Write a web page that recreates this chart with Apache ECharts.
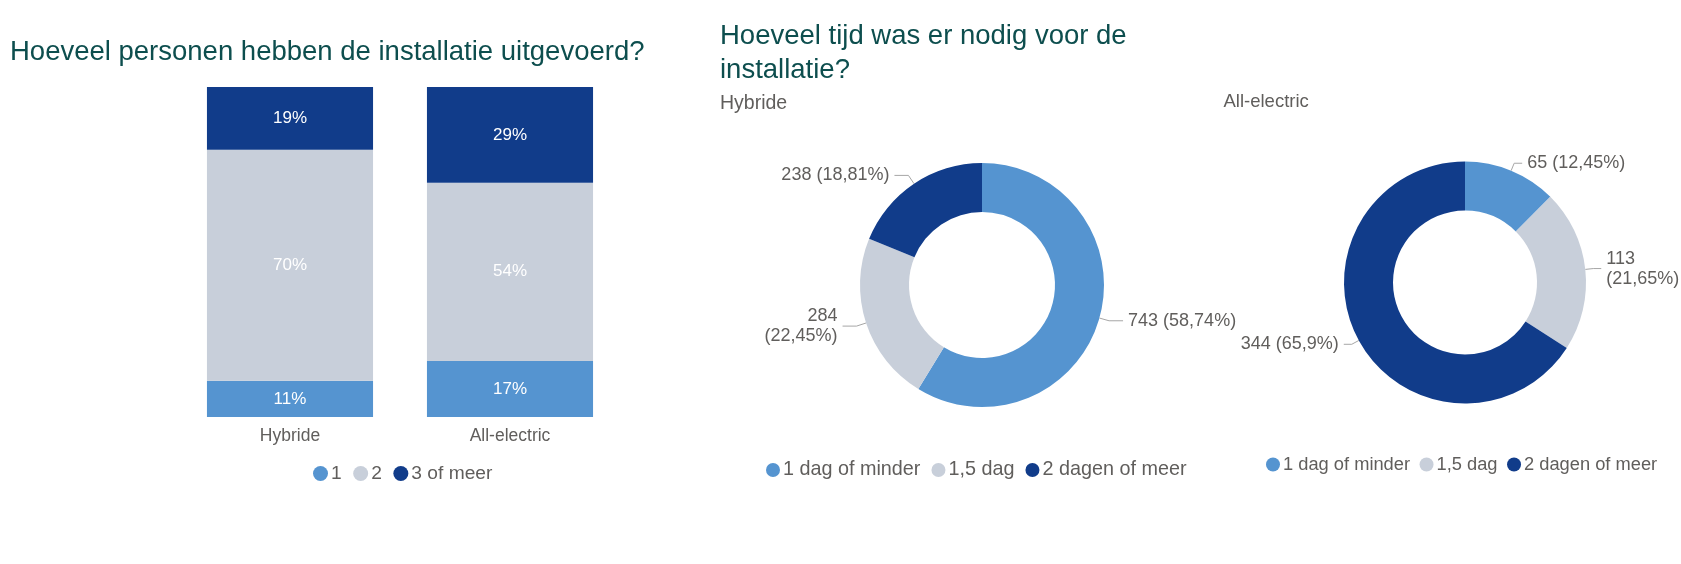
<!DOCTYPE html>
<html>
<head>
<meta charset="utf-8">
<script src="https://cdn.jsdelivr.net/npm/echarts@6/dist/echarts.min.js"></script>
<style>
  html, body { margin: 0; padding: 0; background: #ffffff; }
  #chart { width: 1681px; height: 564px; }
</style>
</head>
<body>
<div id="chart"></div>
<script>
// ---- Data ----
const barCategories = ['Hybride', 'All-electric'];
const barSeriesNames = ['1', '2', '3 of meer'];
const barOne = [11, 17];
const barTwo = [70, 54];
const barThreePlus = [19, 29];

const pieCategories = ['1 dag of minder', '1,5 dag', '2 dagen of meer'];
const hybrideValues = [743, 284, 238];
const allElectricValues = [65, 113, 344];
const hybrideWrap = [false, true, false];
const allElectricWrap = [false, true, false];

// ---- Style ----
const COLORS = ['#5594D0', '#C8CFDA', '#113C8A'];
const TITLE_COLOR = '#0D4E4E';
const TEXT_COLOR = '#605E5C';
const FONT = 'Liberation Sans, Arial, sans-serif';

function fmtPct(p) {
  return String(p).replace('.', ',');
}

function pieData(values) {
  return values.map((v, i) => ({
    name: pieCategories[i],
    value: v,
    itemStyle: { color: COLORS[i] }
  }));
}

function pieLabelFormatter(wrapArr) {
  return function (params) {
    const sep = wrapArr[params.dataIndex] ? '\n' : ' ';
    return params.value + sep + '(' + fmtPct(params.percent) + '%)';
  };
}

const barValues = [barOne, barTwo, barThreePlus];

function pieSeries(name, center, radius, values, wrap, len1, len2) {
  return {
    name: name,
    type: 'pie',
    center: center,
    radius: radius,
    startAngle: 90,
    clockwise: true,
    data: pieData(values),
    label: {
      show: true,
      position: 'outside',
      formatter: pieLabelFormatter(wrap),
      color: TEXT_COLOR,
      fontFamily: FONT,
      fontSize: 18,
      lineHeight: 20,
      width: 115,
      overflow: 'none'
    },
    labelLine: { show: true, length: len1, length2: len2, lineStyle: { color: '#A6A6A6', width: 1 } },
    emphasis: { disabled: true }
  };
}

const chart = echarts.init(document.getElementById('chart'));
const option = {
  backgroundColor: '#ffffff',
  animation: false,
  textStyle: { fontFamily: FONT },
  title: [
    {
      text: 'Hoeveel personen hebben de installatie uitgevoerd?',
      left: 10, top: 38, padding: 0,
      textStyle: { fontFamily: FONT, fontSize: 27.5, fontWeight: 'normal', color: TITLE_COLOR }
    },
    {
      text: 'Hoeveel tijd was er nodig voor de\ninstallatie?',
      left: 720, top: 20, padding: 0,
      textStyle: { fontFamily: FONT, fontSize: 27.5, lineHeight: 33.3, fontWeight: 'normal', color: TITLE_COLOR }
    },
    {
      text: 'Hybride',
      left: 720, top: 94, padding: 0,
      textStyle: { fontFamily: FONT, fontSize: 19.5, fontWeight: 'normal', color: TEXT_COLOR }
    },
    {
      text: 'All-electric',
      left: 1223.5, top: 92.5, padding: 0,
      textStyle: { fontFamily: FONT, fontSize: 18.5, fontWeight: 'normal', color: TEXT_COLOR }
    }
  ],
  legend: [
    {
      data: barSeriesNames,
      left: 313, top: 464, padding: 0,
      icon: 'circle', itemWidth: 15, itemHeight: 15, itemGap: 11.5,
      textStyle: { fontFamily: FONT, fontSize: 19.2, color: TEXT_COLOR, padding: [0, 0, 0, -2] }
    },
    {
      data: pieCategories,
      left: 766, top: 460, padding: 0,
      icon: 'circle', itemWidth: 14, itemHeight: 14, itemGap: 11,
      textStyle: { fontFamily: FONT, fontSize: 19.8, color: TEXT_COLOR, padding: [0, 0, 0, -2] }
    },
    {
      data: pieCategories,
      left: 1266, top: 455.5, padding: 0,
      icon: 'circle', itemWidth: 14, itemHeight: 14, itemGap: 9.5,
      textStyle: { fontFamily: FONT, fontSize: 18.3, color: TEXT_COLOR, padding: [0, 0, 0, -2] }
    }
  ],
  grid: { left: 180, width: 440, top: 87, height: 330 },
  xAxis: {
    type: 'category',
    data: barCategories,
    axisLine: { show: false },
    axisTick: { show: false },
    axisLabel: { fontFamily: FONT, fontSize: 17.5, color: TEXT_COLOR, margin: 10 }
  },
  yAxis: {
    type: 'value', min: 0, max: 100, show: false,
    splitLine: { show: false }
  },
  series: [
    ...barSeriesNames.map((name, i) => ({
      name: name,
      type: 'bar',
      stack: 'total',
      data: barValues[i],
      barWidth: '75.5%',
      itemStyle: { color: COLORS[i] },
      label: {
        show: true,
        position: 'inside',
        formatter: '{c}%',
        color: '#ffffff',
        fontFamily: FONT,
        fontSize: 17
      }
    })),
    pieSeries('Hybride', [982, 285], [73, 122], hybrideValues, hybrideWrap, 10, 14),
    pieSeries('All-electric', [1465, 282.5], [72, 121], allElectricValues, allElectricWrap, 8, 8)
  ]
};
chart.setOption(option);
</script>
</body>
</html>
